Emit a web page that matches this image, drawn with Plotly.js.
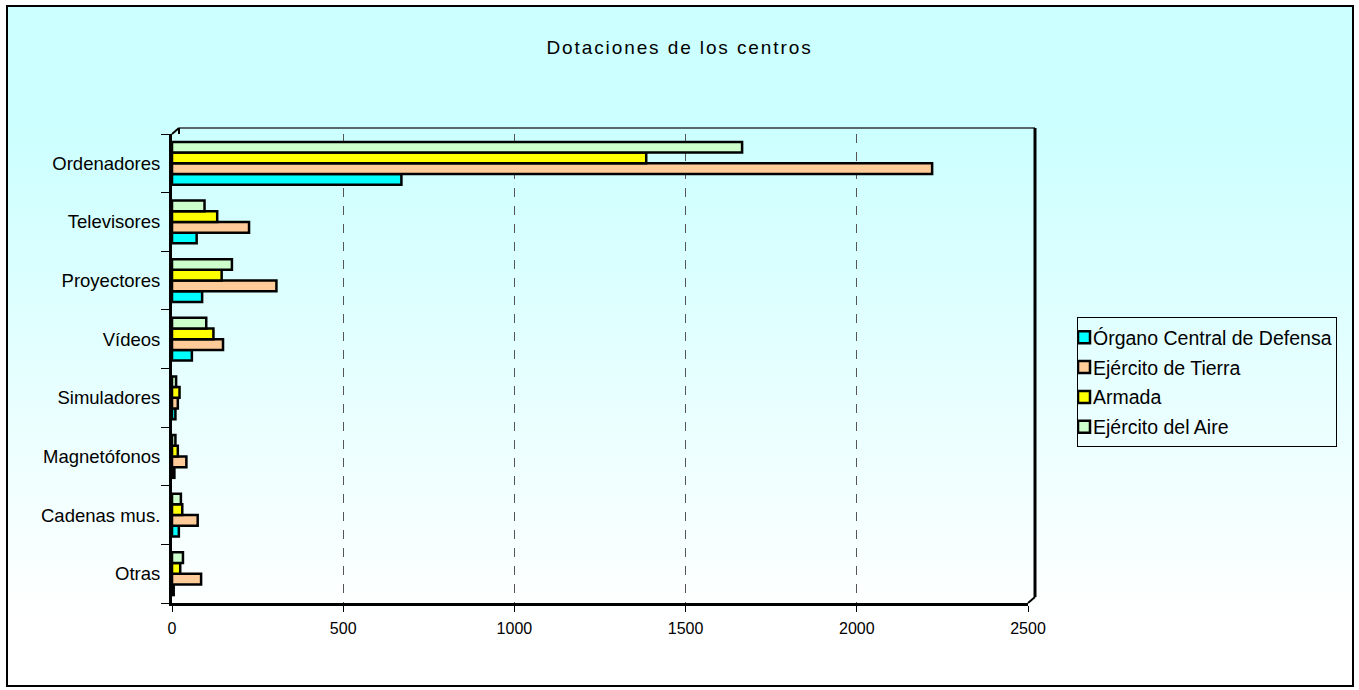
<!DOCTYPE html>
<html><head><meta charset="utf-8">
<script src="https://cdn.plot.ly/plotly-3.0.1.min.js"></script>
<style>
html,body{margin:0;padding:0;background:#fff;}
#wrap{position:relative;width:1359px;height:690px;overflow:hidden;}
#bg{position:absolute;left:6px;top:5px;width:1348px;height:682px;background:linear-gradient(to bottom,#CCFFFF 0%,#CCFFFF 18%,#FFFFFF 90%);}
#frame{position:absolute;left:6px;top:5px;width:1348px;height:682px;box-sizing:border-box;border:2px solid #000;pointer-events:none;}
#chart{position:absolute;left:0;top:0;width:1359px;height:690px;}
.gtitle{letter-spacing:1.9px;}
.legend .legendtext{transform:translateX(-25px);}
.legend .legendpoints{transform:translateX(-14px);}
.legend rect.bg{width:259px;}
</style></head>
<body><div id="wrap"><div id="bg"></div><div id="chart"></div><div id="frame"></div></div>
<script>
const categories = ["Ordenadores","Televisores","Proyectores","Vídeos","Simuladores","Magnetófonos","Cadenas mus.","Otras"];
const organoCentral = [670, 72, 88, 58, 10, 7, 20, 5];
const ejercitoTierra = [2220, 225, 305, 149, 17, 42, 75, 85];
const armada = [1385, 132, 145, 121, 22, 17, 30, 24];
const ejercitoAire = [1665, 95, 175, 100, 12, 10, 26, 32];
const seriesNames = ["Órgano Central de Defensa","Ejército de Tierra","Armada","Ejército del Aire"];
const seriesColors = ["#00FFFF","#FFCC99","#FFFF00","#CCFFCC"];
const xTicks = [0, 500, 1000, 1500, 2000, 2500];

const allSeries = [organoCentral, ejercitoTierra, armada, ejercitoAire];
const traces = allSeries.map((vals, i) => ({
  type: 'bar',
  orientation: 'h',
  name: seriesNames[i],
  legendgroup: 'g' + i,
  x: vals,
  y: categories,
  marker: {color: seriesColors[i], line: {color: '#000', width: 2.5}},
  hoverinfo: 'x+name'
}));

// 3D frame offsets (pixels converted to paper fractions)
const plotW = 856, plotH = 469;
const dx = 7 / plotW, dy = 6 / plotH;

const font = "'Liberation Sans', Arial, sans-serif";
const layout = {
  width: 1359, height: 690,
  paper_bgcolor: 'rgba(0,0,0,0)',
  plot_bgcolor: 'rgba(0,0,0,0)',
  margin: {l: 172, r: 331, t: 134, b: 87, pad: 0},
  barmode: 'group',
  bargap: 0.27,
  bargroupgap: 0,
  font: {family: font, color: '#000'},
  title: {text: 'Dotaciones de los centros', font: {family: font, size: 19, color: '#000'},
          xref: 'container', x: 0.5, xanchor: 'center', yref: 'container', y: 1 - 47/690, yanchor: 'middle'},
  xaxis: {
    range: [0, 2500], tickvals: xTicks, ticktext: xTicks.map(String),
    ticks: 'outside', ticklen: 6, tickcolor: '#000', tickwidth: 1,
    tickfont: {family: font, size: 16, color: '#000'},
    ticklabelstandoff: 3,
    showgrid: true, gridcolor: '#555', griddash: 'dash', gridwidth: 1,
    zeroline: false, showline: true, linecolor: '#000', linewidth: 3, mirror: false,
    fixedrange: true
  },
  yaxis: {
    type: 'category', categoryorder: 'array', categoryarray: categories.slice().reverse(),
    ticks: 'outside', tickson: 'boundaries', ticklen: 8, tickcolor: '#000', tickwidth: 1,
    tickfont: {family: font, size: 18.5, color: '#000'},
    ticklabelstandoff: 5,
    showgrid: false, zeroline: false, showline: true, linecolor: '#000', linewidth: 3, mirror: false,
    fixedrange: true
  },
  shapes: [
    {type: 'line', xref: 'paper', yref: 'paper', x0: dx, x1: 1 + dx, y0: 1 + dy, y1: 1 + dy, line: {color: '#333', width: 1.5}},
    {type: 'line', xref: 'paper', yref: 'paper', x0: 0, x1: dx, y0: 1, y1: 1 + dy, line: {color: '#000', width: 2}},
    {type: 'line', xref: 'paper', yref: 'paper', x0: 1 + dx, x1: 1 + dx, y0: 1 + dy, y1: dy, line: {color: '#000', width: 3}},
    {type: 'line', xref: 'paper', yref: 'paper', x0: 1, x1: 1 + dx, y0: 0, y1: dy, line: {color: '#000', width: 2}},
    {type: 'line', xref: 'paper', yref: 'paper', x0: dx, x1: dx, y0: 1 + dy, y1: 1, line: {color: '#000', width: 2}}
  ],
  legend: {
    xref: 'container', yref: 'container', x: 1077/1359, y: 1 - 317/690, xanchor: 'left', yanchor: 'top',
    bgcolor: 'rgba(0,0,0,0)', bordercolor: '#000', borderwidth: 1,
    font: {family: font, size: 19.5, color: '#000'},
    tracegroupgap: 1.5, itemwidth: 30
  },
  showlegend: true
};

Plotly.newPlot('chart', traces, layout, {displayModeBar: false, staticPlot: true});
</script>
</body></html>
